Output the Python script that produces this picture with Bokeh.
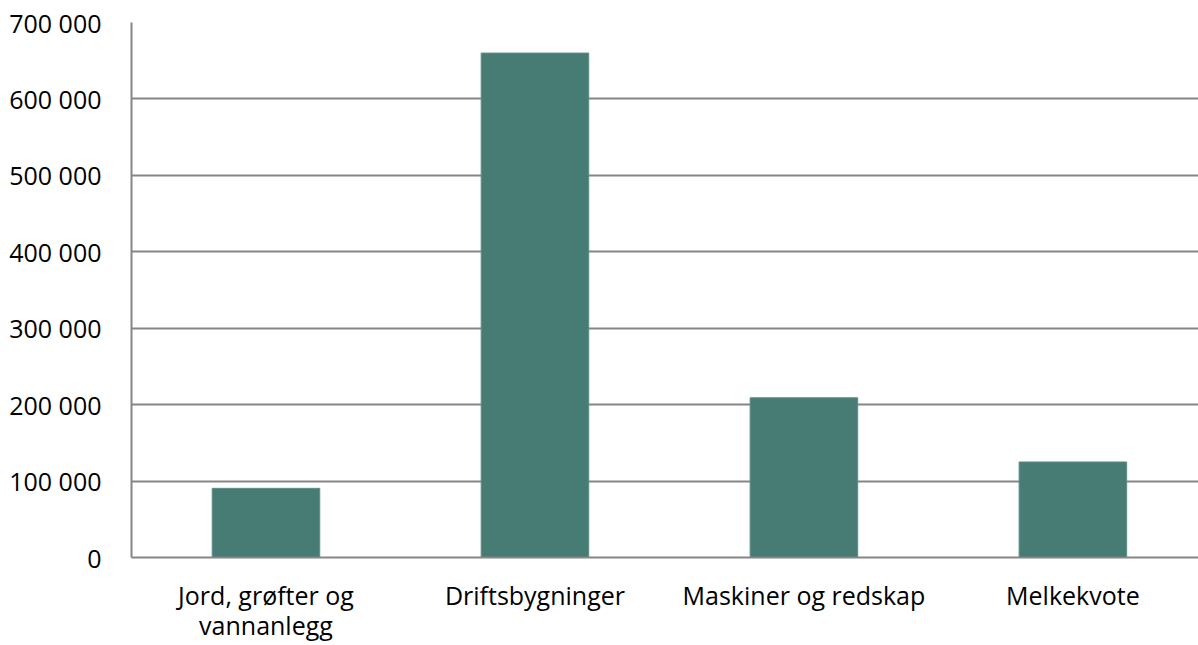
from bokeh.plotting import figure
from bokeh.models import FixedTicker, Range1d
from bokeh.embed import file_html
from bokeh.resources import INLINE

categories = ["Jord, grøfter og\nvannanlegg", "Driftsbygninger", "Maskiner og redskap", "Melkekvote"]
values = [90500, 660000, 209000, 125000]
tick_values = [0, 100000, 200000, 300000, 400000, 500000, 600000, 700000]
tick_labels = ["0", "100 000", "200 000", "300 000", "400 000", "500 000", "600 000", "700 000"]

# category slots centred at 0.5, 1.5, ... ; right end of the frame is cut off by the window
positions = [i + 0.5 for i in range(len(categories))]

p = figure(x_range=Range1d(0, 3.967), y_range=Range1d(0, 700000), width=1198, height=645,
           output_backend="svg", toolbar_location=None,
           min_border_left=131, min_border_right=0, min_border_top=22, min_border_bottom=88)
p.vbar(x=positions, top=values, width=0.40, fill_color="#467C74", line_color="#5E8F88", line_width=1)

p.outline_line_color = None
p.xaxis.ticker = FixedTicker(ticks=positions)
p.xaxis.major_label_overrides = {x: c for x, c in zip(positions, categories)}
p.yaxis.ticker = FixedTicker(ticks=tick_values)
p.yaxis.major_label_overrides = {v: l for v, l in zip(tick_values, tick_labels)}
for ax in (p.xaxis, p.yaxis):
    ax.axis_line_color = "#868686"
    ax.axis_line_width = 2
    ax.major_tick_line_color = None
    ax.minor_tick_line_color = None
    ax.major_label_text_font = "Open Sans"
    ax.major_label_text_font_size = "25px"
    ax.major_label_text_color = "#000000"
p.yaxis.major_label_standoff = 24
p.xaxis.major_label_standoff = 14
p.xaxis.major_label_text_line_height = 0.9
p.xgrid.grid_line_color = None
p.ygrid.grid_line_color = "#868686"
p.ygrid.grid_line_width = 2

open("out.html", "w").write(file_html(p, INLINE))
